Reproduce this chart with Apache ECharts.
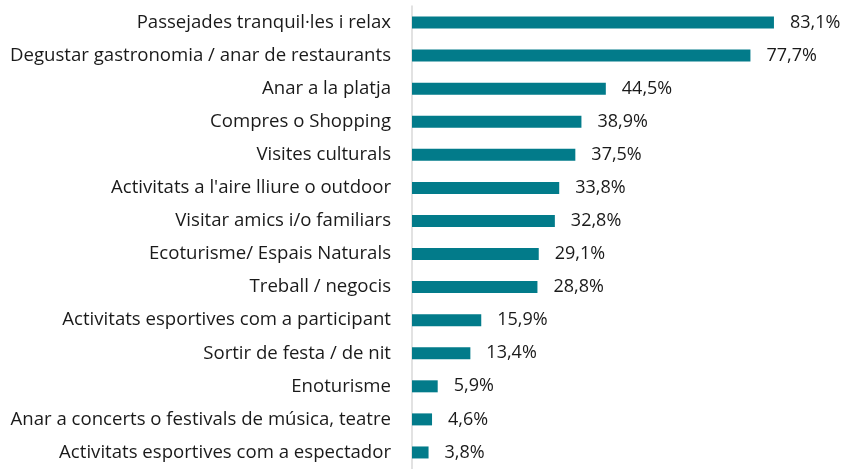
<!DOCTYPE html>
<html>
<head>
<meta charset="utf-8">
<script src="https://cdn.jsdelivr.net/npm/echarts@6/dist/echarts.min.js"></script>
<style>
  html, body { margin: 0; padding: 0; background: #ffffff; }
  #chart { width: 844px; height: 469px; }
</style>
</head>
<body>
<div id="chart"></div>
<script>
// Activities, listed top to bottom
const categories = [
  "Passejades tranquil·les i relax",
  "Degustar gastronomia / anar de restaurants",
  "Anar a la platja",
  "Compres o Shopping",
  "Visites culturals",
  "Activitats a l'aire lliure o outdoor",
  "Visitar amics i/o familiars",
  "Ecoturisme/ Espais Naturals",
  "Treball / negocis",
  "Activitats esportives com a participant",
  "Sortir de festa / de nit",
  "Enoturisme",
  "Anar a concerts o festivals de música, teatre",
  "Activitats esportives com a espectador"
];
// Share of respondents (%)
const values = [83.1, 77.7, 44.5, 38.9, 37.5, 33.8, 32.8, 29.1, 28.8, 15.9, 13.4, 5.9, 4.6, 3.8];

const chart = echarts.init(document.getElementById('chart'), null, { renderer: 'canvas' });
const fontFamily = "'Open Sans', 'Noto Sans', sans-serif";

chart.setOption({
  animation: false,
  grid: { left: 412, top: 6, width: 392, height: 467, containLabel: false },
  xAxis: {
    type: 'value', min: 0, max: 90,
    show: false
  },
  yAxis: {
    type: 'category',
    data: categories,
    inverse: true,
    axisLine: { show: true, lineStyle: { color: '#D9D9D9', width: 1.5 } },
    axisTick: { show: false },
    axisLabel: { color: '#1a1a1a', fontSize: 18.6, fontFamily: fontFamily, margin: 21 }
  },
  series: [{
    type: 'bar',
    data: values,
    barWidth: 12,
    itemStyle: { color: '#027B8A' },
    label: {
      show: true,
      position: 'right',
      distance: 16,
      color: '#1a1a1a',
      fontSize: 18,
      fontFamily: fontFamily,
      formatter: p => p.value.toFixed(1).replace('.', ',') + '%'
    }
  }]
});
</script>
</body>
</html>
